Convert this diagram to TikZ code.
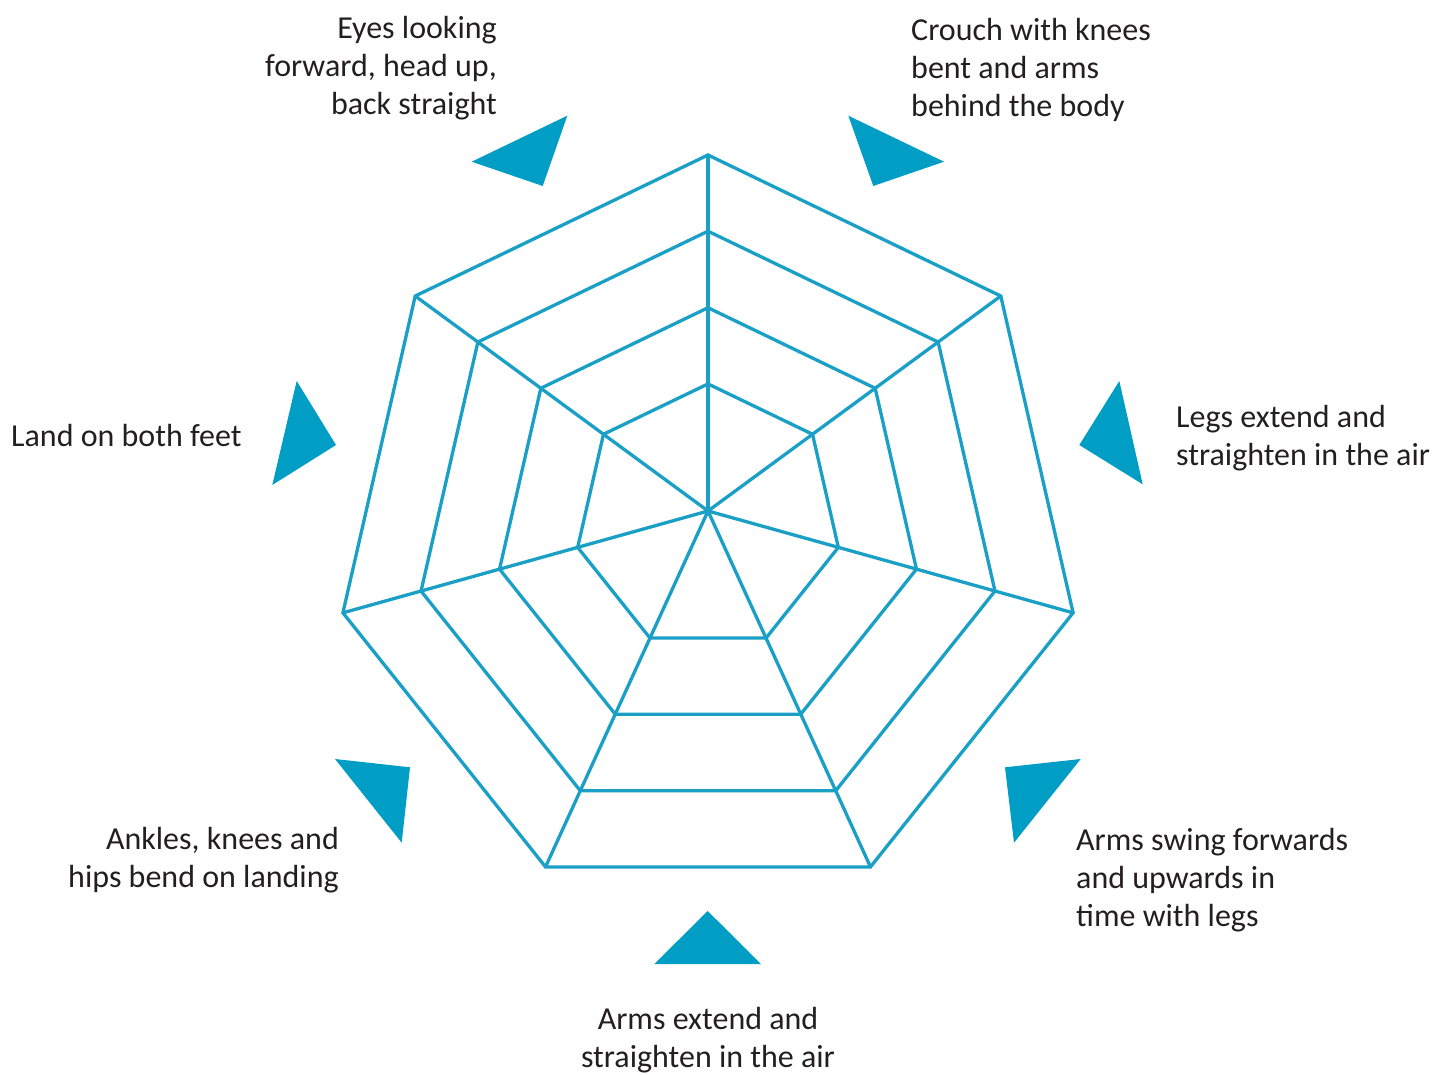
\documentclass[tikz,border=0pt]{standalone}
\usepackage{fontspec}
\setmainfont{Carlito}
\usetikzlibrary{calc}
\definecolor{webline}{HTML}{1A9FC6}
\definecolor{tri}{HTML}{009DC4}
\definecolor{txt}{HTML}{231F20}
\begin{document}
\begin{tikzpicture}[x=1pt,y=-1pt,
  web/.style={draw=webline, line width=3.3pt, line join=miter},
  pointer/.style={fill=tri},
  lbl/.style={text=txt, font=\fontsize{32}{38}\selectfont, inner sep=0pt}
]
\useasboundingbox (0,0) rectangle (1432,1075);
\coordinate (O) at (708,511);
\foreach \i in {0,...,6} {
  \coordinate (V\i) at ({708+374.5*sin(\i*360/7)},{529.5-374.5*cos(\i*360/7)});
}
% rings
\foreach \s in {1,0.786,0.571,0.357} {
  \draw[web] ($(O)!\s!(V0)$) -- ($(O)!\s!(V1)$) -- ($(O)!\s!(V2)$) -- ($(O)!\s!(V3)$)
    -- ($(O)!\s!(V4)$) -- ($(O)!\s!(V5)$) -- ($(O)!\s!(V6)$) -- cycle;
}
% spokes
\foreach \i in {0,...,6} { \draw[web, line cap=round] (O) -- (V\i); }
% pointers
\fill[pointer] (471.7,161.7) -- (567.3,115.7) -- (542.7,186) -- cycle;
\fill[pointer] (848.3,115.7) -- (944,161.7) -- (873.3,186) -- cycle;
\fill[pointer] (1119.3,381) -- (1142.7,484.3) -- (1079.3,445) -- cycle;
\fill[pointer] (1005,767.3) -- (1080.7,759) -- (1014,842.7) -- cycle;
\fill[pointer] (707.7,911) -- (761,964) -- (654.3,964) -- cycle;
\fill[pointer] (335,759) -- (410,767.3) -- (401.7,842.7) -- cycle;
\fill[pointer] (296.7,381) -- (336,445) -- (272.3,485) -- cycle;
% labels (base anchor = baseline of last line)
\node[lbl, align=right, anchor=base east] (eyes) at (497,115) {Eyes looking\\forward, head up,\\back straight};
\node[lbl, align=left, anchor=base west] (crouch) at (911,117) {Crouch with knees\\bent and arms\\behind the body};
\node[lbl, align=left, anchor=base west] (legs) at (1176,465) {Legs extend and\\straighten in the air};
\node[lbl, align=left, anchor=base west] (swing) at (1076,926) {Arms swing forwards\\and upwards in\\time with legs};
\node[lbl, align=center, anchor=base] (armsext) at (708,1067) {Arms extend and\\straighten in the air};
\node[lbl, align=right, anchor=base east] (ankles) at (339,887) {Ankles, knees and\\hips bend on landing};
\node[lbl, align=left, anchor=base west] (land) at (11,446) {Land on both feet};
\end{tikzpicture}
\end{document}
